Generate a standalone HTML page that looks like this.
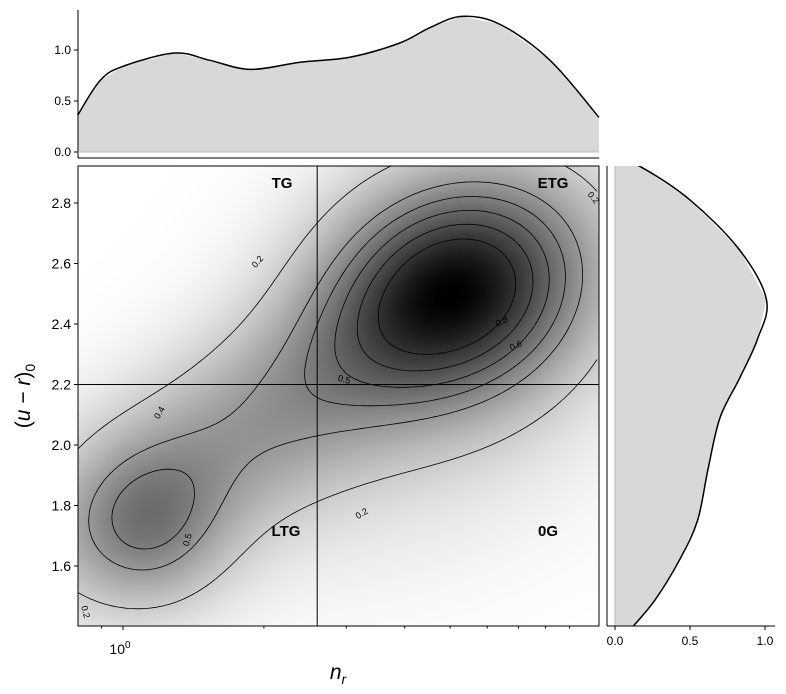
<!DOCTYPE html>
<html><head><meta charset="utf-8">
<style>
body{margin:0;background:#fff;font-family:"Liberation Sans",sans-serif;}
#wrap{position:relative;width:786px;height:694px;overflow:hidden;}
svg text{font-family:"Liberation Sans",sans-serif;}
canvas{position:absolute;left:78px;top:166px;}
</style></head><body>
<div id="wrap">
<canvas id="dens" width="521" height="460"></canvas>
<svg id="svg" width="786" height="694" style="position:absolute;left:0;top:0"></svg>
</div>
<script>
// ---- data ----
const topN = [0.80,0.893,1.0,1.29,1.53,1.87,2.39,3.06,3.91,4.53,5.3,6.4,8.17,10.4];
const topDensity = [0.36,0.70,0.84,0.97,0.90,0.81,0.88,0.93,1.07,1.22,1.33,1.25,0.90,0.34];
const rightColor = [2.95,2.92,2.81,2.645,2.48,2.35,2.22,2.09,1.92,1.75,1.62,1.49,1.40];
const rightDensity = [0.0,0.17,0.50,0.83,1.01,0.95,0.83,0.70,0.62,0.55,0.43,0.27,0.12];
// mixture components: log10 n center, color center, sd log n, sd color, amplitude, rho
const compLogN = [0.72,0.05,0.30,0.55];
const compColor = [2.52,1.72,2.10,1.90];
const compSdX = [0.20,0.12,0.35,0.35];
const compSdY = [0.27,0.19,0.38,0.30];
const compAmp = [0.90,0.35,0.38,0.10];
const compRho = [0.1,0.0,0.75,0.3];
const contourLevels = [0.2,0.4,0.5,0.6,0.7,0.8];
const yTicks = [1.6,1.8,2.0,2.2,2.4,2.6,2.8];
const topTicks = [0.0,0.5,1.0];
const rightTicks = [0.0,0.5,1.0];
const minorN = [0.9,2,3,4,5,6,7,8,9];
const nSplit = 2.6, cSplit = 2.2;

// ---- axes ----
const X0=78,X1=599,Y0=166,Y1=626;
const PXD=468, X_ONE=123;
const xs = n => X_ONE + Math.log10(n)*PXD;
const ys = c => 566 - (c-1.6)*302.5;
const topY = d => 152 - d*102;
const rightX = d => 615 + d*150;

const NS="http://www.w3.org/2000/svg";
const svg=document.getElementById('svg');
function mk(tag,attrs,parent){const e=document.createElementNS(NS,tag);for(const k in attrs)e.setAttribute(k,attrs[k]);(parent||svg).appendChild(e);return e;}
function txt(x,y,s,opt){const e=mk('text',Object.assign({x:x,y:y,'font-size':13,fill:'#000'},opt||{}));e.textContent=s;return e;}

// ---- density ----
function dens(l,c){let s=0;for(let i=0;i<compAmp.length;i++){const dx=(l-compLogN[i])/compSdX[i],dy=(c-compColor[i])/compSdY[i],r=compRho[i];s+=compAmp[i]*Math.exp(-(dx*dx-2*r*dx*dy+dy*dy)/(2*(1-r*r)));}return s;}
const W=521,H=460;
const cv=document.getElementById('dens'),ctx=cv.getContext('2d');
const grid=[];let mx=0;
for(let j=0;j<H;j++){grid.push(new Float32Array(W));for(let i=0;i<W;i++){const l=(X0+i+0.5-X_ONE)/PXD;const c=1.6+(566-(Y0+j+0.5))/302.5;const v=dens(l,c);grid[j][i]=v;if(v>mx)mx=v;}}
const img=ctx.createImageData(W,H);
for(let j=0;j<H;j++)for(let i=0;i<W;i++){const v=grid[j][i]/mx;grid[j][i]=v;const g=Math.round(255*(1-v));const k=(j*W+i)*4;img.data[k]=img.data[k+1]=img.data[k+2]=g;img.data[k+3]=255;}
ctx.putImageData(img,0,0);
// contours via marching squares
const cg=mk('g',{stroke:'#000','stroke-width':0.8,fill:'none'});
const st=3;
for(const lv of contourLevels){let d='';
 for(let j=0;j+st<H;j+=st)for(let i=0;i+st<W;i+=st){
  const a=grid[j][i],b=grid[j][i+st],c2=grid[j+st][i+st],e=grid[j+st][i];
  const pts=[];
  const ed=(v1,v2,x1,y1,x2,y2)=>{if((v1-lv)*(v2-lv)<0){const t=(lv-v1)/(v2-v1);pts.push([X0+x1+t*(x2-x1),Y0+y1+t*(y2-y1)]);}};
  ed(a,b,i,j,i+st,j);ed(b,c2,i+st,j,i+st,j+st);ed(c2,e,i+st,j+st,i,j+st);ed(e,a,i,j+st,i,j);
  for(let p=0;p+1<pts.length;p+=2)d+=`M${pts[p][0].toFixed(1)},${pts[p][1].toFixed(1)}L${pts[p+1][0].toFixed(1)},${pts[p+1][1].toFixed(1)}`;
 }
 const p=mk('path',{d:d},cg);
 
 
}
// contour labels
[[258,262,'0.2',-50],[160,413,'0.4',-60],[188,540,'0.5',-75],[362,514,'0.2',-30],[85,612,'0.2',75],[344,380,'0.5',15],[502,322,'0.8',-25],[516,346,'0.6',-25],[593,198,'0.2',50]].forEach(a=>{
 const t=txt(a[0],a[1],a[2],{'font-size':9,'text-anchor':'middle',transform:`rotate(${a[3]} ${a[0]} ${a[1]})`,'dominant-baseline':'middle'});
 
});
// split lines
mk('line',{x1:xs(nSplit),x2:xs(nSplit),y1:Y0,y2:Y1,stroke:'#000','stroke-width':1,});
mk('line',{x1:X0,x2:X1,y1:ys(cSplit),y2:ys(cSplit),stroke:'#000','stroke-width':1,});
// region labels
[[282,'TG',183],[553,'ETG',183],[286,'LTG',531],[548,'0G',531]].forEach(a=>{const t=txt(a[0],a[2]+5,a[1],{'font-size':15,'font-weight':'bold','text-anchor':'middle'});});
// main frame
mk('rect',{x:X0,y:Y0,width:X1-X0,height:Y1-Y0,fill:'none',stroke:'#000','stroke-width':1,});
// y ticks
yTicks.forEach(v=>{const y=ys(v);mk('line',{x1:X0-4,x2:X0,y1:y,y2:y,stroke:'#000'});const t=txt(X0-7,y+5,v.toFixed(1),{'text-anchor':'end','font-size':14});});
// x ticks
mk('line',{x1:xs(1),x2:xs(1),y1:Y1,y2:Y1+4,stroke:'#000'});
minorN.forEach(n=>mk('line',{x1:xs(n),x2:xs(n),y1:Y1,y2:Y1+2.5,stroke:'#000'}));
const xt=txt(xs(1),654,'10',{'text-anchor':'middle','font-size':14,dx:-3});const sup=mk('tspan',{dy:-6,'font-size':10});sup.textContent='0';xt.appendChild(sup);

const xlab=txt(338,679,'n',{'font-size':21,'font-style':'italic','text-anchor':'middle',});const xs2=mk('tspan',{dy:5,'font-size':14});xs2.textContent='r';xlab.appendChild(xs2);
const yl=mk('text',{x:0,y:0,'font-size':21,transform:'translate(30,396) rotate(-90)','text-anchor':'middle',});
yl.innerHTML='(<tspan font-style="italic">u</tspan> − <tspan font-style="italic">r</tspan>)<tspan font-size="14" dy="5">0</tspan>';

// ---- top marginal ----
const tg=mk('g',{});
let td=`M${xs(topN[0])},${topY(0)}`;topN.forEach((n,i)=>td+=`L${xs(n)},${topY(topDensity[i])}`);td+=`L${xs(topN[topN.length-1])},${topY(0)}Z`;
const tfill=mk('path',{d:td,fill:'#d8d8d8',stroke:'none'},tg);

const tpts=topN.map((n,i)=>[xs(n),topY(topDensity[i])]);
function smooth(p){let d=`M${p[0][0]},${p[0][1]}`;for(let i=0;i<p.length-1;i++){const p0=p[Math.max(0,i-1)],p1=p[i],p2=p[i+1],p3=p[Math.min(p.length-1,i+2)];d+=`C${p1[0]+(p2[0]-p0[0])/6},${p1[1]+(p2[1]-p0[1])/6} ${p2[0]-(p3[0]-p1[0])/6},${p2[1]-(p3[1]-p1[1])/6} ${p2[0]},${p2[1]}`;}return d;}
const tl=mk('path',{d:smooth(tpts),fill:'none',stroke:'#000','stroke-width':1.5},tg);

mk('line',{x1:X0,x2:X0,y1:10,y2:158,stroke:'#000'},tg);
mk('line',{x1:X0,x2:X1,y1:158,y2:158,stroke:'#000'},tg);
mk('line',{x1:X0,x2:X1,y1:152,y2:152,stroke:'#bbb','stroke-width':1},tg);
topTicks.forEach(v=>{mk('line',{x1:X0-4,x2:X0,y1:topY(v),y2:topY(v),stroke:'#000'},tg);const t=txt(X0-7,topY(v)+4,v.toFixed(1),{'text-anchor':'end','font-size':12});});

// ---- right marginal ----
const rg=mk('g',{});
const cp=mk('clipPath',{id:'rclip'});mk('rect',{x:607,y:Y0,width:170,height:Y1-Y0},cp);
rg.setAttribute('clip-path','url(#rclip)');
let rd=`M${rightX(0)},${ys(rightColor[0])}`;rightColor.forEach((c,i)=>rd+=`L${rightX(rightDensity[i])},${ys(c)}`);rd+=`L${rightX(0)},${ys(rightColor[rightColor.length-1])}Z`;
const rf=mk('path',{d:rd,fill:'#d8d8d8'},rg);
const rl=mk('path',{d:smooth(rightColor.map((c,i)=>[rightX(rightDensity[i]),ys(c)])),fill:'none',stroke:'#000','stroke-width':1.5},rg);

mk('line',{x1:615,x2:615,y1:Y0,y2:Y1,stroke:'#bbb'},rg);
mk('line',{x1:607,x2:607,y1:Y0,y2:Y1,stroke:'#000'});
mk('line',{x1:607,x2:775,y1:Y1,y2:Y1,stroke:'#000'});
rightTicks.forEach(v=>{mk('line',{x1:rightX(v),x2:rightX(v),y1:Y1,y2:Y1+4,stroke:'#000'});const t=txt(rightX(v),Y1+19,v.toFixed(1),{'text-anchor':'middle','font-size':12});});
</script>
</body></html>
